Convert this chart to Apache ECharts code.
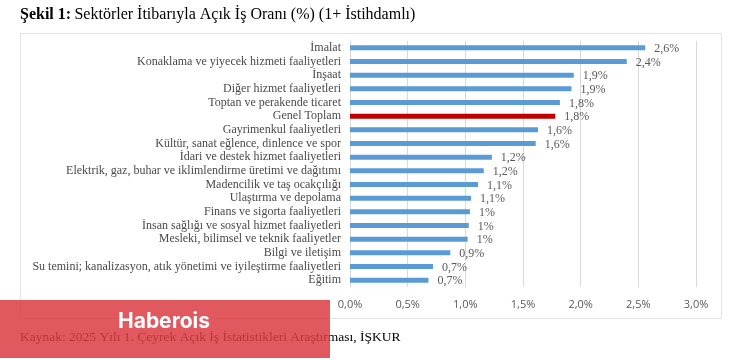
<!DOCTYPE html>
<html>
<head>
<meta charset="utf-8">
<script src="https://cdn.jsdelivr.net/npm/echarts@6/dist/echarts.min.js"></script>
<style>html,body{margin:0;padding:0;background:#fff;}#c{width:750px;height:360px;}</style>
</head>
<body>
<div id="c"></div>
<script>
const categories = ["İmalat","Konaklama ve yiyecek hizmeti faaliyetleri","İnşaat","Diğer hizmet faaliyetleri","Toptan ve perakende ticaret","Genel Toplam","Gayrimenkul faaliyetleri","Kültür, sanat eğlence, dinlence ve spor","İdari ve destek hizmet faaliyetleri","Elektrik, gaz, buhar ve iklimlendirme üretimi ve dağıtımı","Madencilik ve taş ocakçılığı","Ulaştırma ve depolama","Finans ve sigorta faaliyetleri","İnsan sağlığı ve sosyal hizmet faaliyetleri","Mesleki, bilimsel ve teknik faaliyetler","Bilgi ve iletişim","Su temini; kanalizasyon, atık yönetimi ve iyileştirme faaliyetleri","Eğitim"];
const values = [2.56,2.40,1.94,1.92,1.82,1.78,1.63,1.61,1.23,1.16,1.11,1.05,1.04,1.03,1.02,0.87,0.72,0.68];
const valueLabels = ["2,6%","2,4%","1,9%","1,9%","1,8%","1,8%","1,6%","1,6%","1,2%","1,2%","1,1%","1,1%","1%","1%","1%","0,9%","0,7%","0,7%"];
const highlight = "Genel Toplam";

const chart = echarts.init(document.getElementById('c'), null, {renderer:'canvas'});
chart.setOption({
  animation:false,
  backgroundColor:'#fff',
  grid:{left:350,right:54,top:41,bottom:73,containLabel:false},
  xAxis:{type:'value',min:0,max:3,interval:0.5,
    axisLine:{show:false},axisTick:{show:false},
    splitLine:{lineStyle:{color:'#d9d9d9',width:1}},
    axisLabel:{color:'#595959',fontFamily:'Open Sans',fontSize:11,margin:12,
      formatter:v=>v.toFixed(1).replace('.',',')+'%'}},
  yAxis:{type:'category',data:categories,inverse:true,
    axisLine:{show:true,lineStyle:{color:'#d9d9d9'}},axisTick:{show:false},
    axisLabel:{interval:0,color:'#4a4a4a',fontFamily:'Liberation Serif',fontSize:12,margin:9}},
  series:[{type:'bar',barWidth:5,
    data:values.map((v,i)=>({value:v,itemStyle:{color:categories[i]===highlight?'#c00000':'#5b9bd5'}})),
    label:{show:true,position:'right',distance:9,offset:[0,1],color:'#595959',fontFamily:'Liberation Serif',fontSize:12,
      formatter:p=>valueLabels[p.dataIndex]}}],
  graphic:[
    {type:'rect',z:-1,shape:{x:20.5,y:33.5,width:701,height:285},style:{fill:'none',stroke:'#e3e3e3',lineWidth:1}},
    {type:'text',left:20,top:7,style:{rich:{b:{fontWeight:'bold',fontFamily:'Liberation Serif',fontSize:16,fill:'#000'},n:{fontFamily:'Liberation Serif',fontSize:16,fill:'#000'}},text:'{b|Şekil 1:} {n|Sektörler İtibarıyla Açık İş Oranı (%) (1+ İstihdamlı)}'}},
    {type:'text',left:20,top:330,style:{text:'Kaynak: 2025 Yılı 1. Çeyrek Açık İş İstatistikleri Araştırması, İŞKUR',fontFamily:'Liberation Serif',fontSize:13.5,fill:'#000'}},
    {type:'rect',z:10,shape:{x:0,y:300,width:330,height:58},style:{fill:'rgba(220,60,66,0.85)'}},
    {type:'text',z:11,left:118,top:311,style:{text:'Haberois',fontFamily:'Inter',fontWeight:'bold',fontSize:21,fill:'#fff'}}
  ]
});
</script>
</body>
</html>
